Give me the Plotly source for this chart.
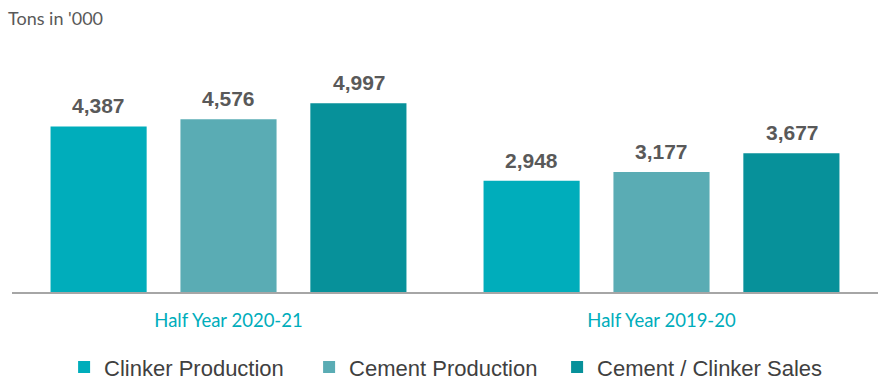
import plotly.graph_objects as go

categories = ["Half Year 2020-21", "Half Year 2019-20"]
series_names = ["Clinker Production", "Cement Production", "Cement / Clinker Sales"]
clinker_production = [4387, 2948]
cement_production = [4576, 3177]
sales = [4997, 3677]
colors = ["#00ADBB", "#5AACB4", "#07919A"]

all_series = [clinker_production, cement_production, sales]
legend_widths = [200, 203, 240]
slot_px = 130.5

fig = go.Figure()
annotations = []
for i, (name, vals, col, lw) in enumerate(zip(series_names, all_series, colors, legend_widths)):
    fig.add_trace(go.Bar(
        x=categories, y=vals, name=name, marker=dict(color=col, line=dict(width=0)),
        legendwidth=lw,
    ))
    for c, v in zip(categories, vals):
        annotations.append(dict(
            x=c, y=v, xref="x", yref="y", text=f"{v:,}", showarrow=False,
            xshift=(i - 1) * slot_px, yanchor="bottom", yshift=7,
            font=dict(family="Liberation Sans, Arial", size=21, color="#595959", weight="bold"),
        ))

annotations.append(dict(text="Tons in '000", xref="paper", yref="paper",
                        x=0, y=1, xanchor="left", yanchor="top", xshift=-6, yshift=45,
                        showarrow=False,
                        font=dict(family="Lato, Open Sans", size=18, color="#595959")))

fig.update_layout(
    width=878, height=381,
    margin=dict(l=12, r=0, t=50, b=89, autoexpand=False),
    paper_bgcolor="white", plot_bgcolor="white",
    barmode="group", bargap=0.10, bargroupgap=0.26,
    showlegend=True,
    legend=dict(orientation="h", x=0.073, xanchor="left", xref="container",
                y=0.036, yanchor="middle", yref="container",
                font=dict(family="Liberation Sans, Arial", size=22, color="#404040"),
                itemwidth=30, traceorder="normal"),
    xaxis=dict(showline=True, linecolor="#A6A6A6", linewidth=2, ticks="",
               tickfont=dict(family="Lato, Open Sans", size=18.5, color="#00ADBB"),
               ticklabelstandoff=11, automargin=False, showgrid=False),
    yaxis=dict(range=[0, 6410], visible=False, showgrid=False, automargin=False),
    annotations=annotations,
)
fig.write_html("out.html")
